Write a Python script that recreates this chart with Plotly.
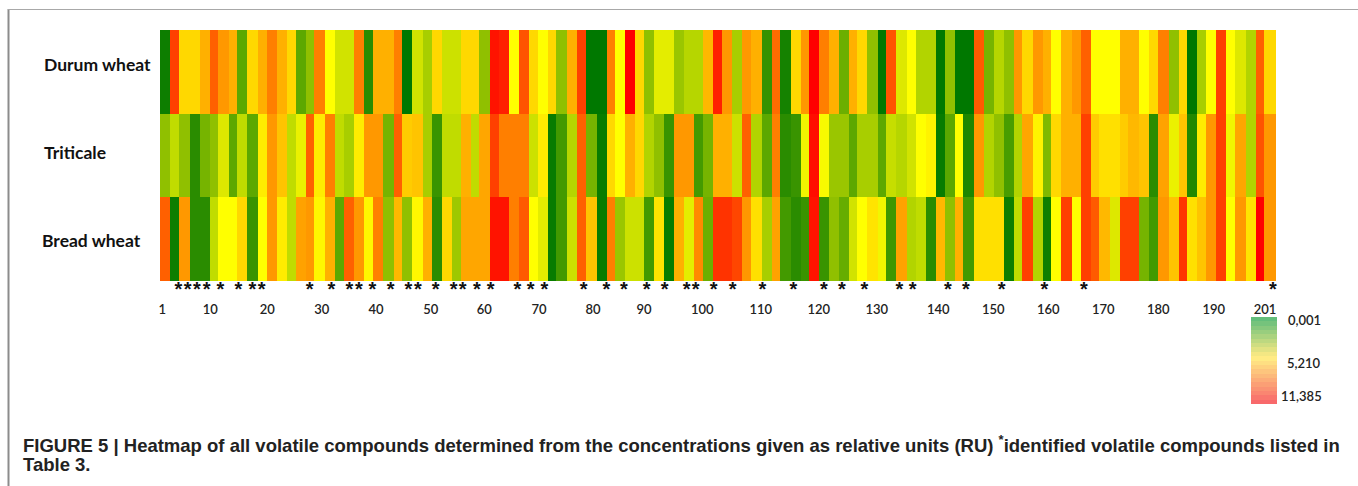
import plotly.graph_objects as go

WIDTH, HEIGHT = 1358, 486

row_names = ["Durum wheat", "Triticale", "Bread wheat"]

# Colour position of each block (0 = dark green, 5 = yellow, 10 = red)
durum_wheat = [
    0.3, 9, 6, 6, 7, 8.5, 7.5, 7, 2, 6,
    7, 8, 7, 6, 2, 3, 8, 5, 4.3, 4.3,
    8, 1, 7, 7, 8, 0, 4.3, 3.5, 6, 4.2,
    4.2, 6, 6, 3, 9.7, 9.5, 5, 8.7, 6, 5,
    6, 3, 7, 9, 0, 0, 8, 5, 10, 6,
    3, 4.6, 4.6, 3.2, 3.8, 3.8, 6.8, 9.5, 7.5, 3.5,
    7.5, 7, 1.2, 8.3, 0.5, 6, 7.5, 10, 8, 7,
    2.3, 7, 6, 3, 0, 8.7, 4.5, 5, 3.7, 3.7,
    0, 3, 0, 0, 8.6, 2.5, 3.8, 3, 7.5, 6,
    7.5, 7, 5, 7, 7.5, 8.5, 5, 5, 5, 7,
    7, 5, 6, 8, 3, 6, 0, 3.5, 5, 9,
    5, 4.5, 3.7, 8.5, 6,
]
triticale = [
    3, 4, 3, 1, 2.5, 3, 4.5, 2, 4, 2,
    5.5, 7.5, 6.5, 4, 4.7, 8.5, 5.5, 8, 4, 3.5,
    5.5, 7.5, 7.5, 2.5, 8.5, 6.3, 6.5, 3.5, 1.3, 4,
    4, 7, 4, 7.2, 9, 8, 8, 8, 4.2, 5.5,
    0.2, 1.5, 3.8, 8.5, 2.5, 0.2, 6, 5, 7, 6,
    3.7, 3, 1.3, 7.5, 7.5, 1.5, 2.5, 7, 7, 4.2,
    8.5, 3.7, 2, 8, 1, 1.3, 4.8, 9.8, 4.9, 3.2,
    3.2, 2, 3.5, 3.5, 2, 4.1, 3.8, 4.3, 5, 5.3,
    0.2, 2, 5, 0.7, 7.5, 3.7, 3, 1.6, 3.7, 7.2,
    5.3, 2.7, 6, 7, 7, 9, 6.3, 5.8, 5.8, 6.3,
    6.8, 6.5, 1, 7.3, 4.7, 6.5, 0.8, 5.5, 7.5, 9,
    4.8, 7.2, 3.7, 8.7, 7.5,
]
bread_wheat = [
    8.5, 0.3, 7.5, 1, 1, 4, 5, 5, 6, 1.3,
    5, 7.5, 5.5, 4, 7.3, 7.5, 5.2, 7, 2, 8.5,
    7.5, 5.2, 8, 3, 6.8, 3, 5.2, 7, 1, 6,
    3.3, 7.2, 7.2, 7.2, 9.7, 9.7, 8, 8.6, 5, 4.6,
    0.2, 1.5, 4.2, 8.5, 6.5, 0.2, 8, 3.2, 4.2, 4.2,
    1.5, 5.7, 0.2, 7, 4.6, 7.8, 2.3, 9.2, 9.2, 8.9,
    7.5, 5.8, 3.5, 7.3, 1.5, 1, 1.3, 9.7, 1.3, 3,
    2.2, 4.3, 5, 5.7, 4.8, 1.4, 7.3, 3.7, 4, 1,
    6.8, 3, 7, 1.5, 5.8, 5.8, 5.8, 0.3, 4, 9,
    3.7, 0.3, 5, 9, 5, 9, 8.6, 6.8, 4.5, 9,
    9, 2.5, 1.5, 7.5, 6.5, 9.2, 5.8, 6.5, 7.5, 9,
    5, 7.5, 5.7, 10, 7.5,
]

# Block boundaries along the horizontal axis (the blocks are not evenly wide)
column_edges = [
    160, 169.7, 179.3, 189.7, 199.7, 210, 218.3, 228.7, 237, 247.3,
    257.7, 267, 277, 287.3, 295.7, 306, 314.3, 324.7, 335, 344.3,
    354.3, 364.3, 373, 383.3, 393.7, 401.7, 412.3, 422.7, 431.7, 442,
    452.3, 460.7, 471, 479.3, 489.7, 499.3, 509, 519.3, 529.3, 538.3,
    548, 556.3, 566.7, 577.3, 586, 596.7, 606.7, 614.7, 625, 635,
    644, 654.3, 664, 673.7, 684, 694.3, 702.7, 712.7, 721.7, 731.7,
    742, 751.3, 761.7, 772, 780, 790.7, 800.7, 808.7, 819.3, 828.7,
    838.7, 849, 857, 867.3, 878, 886, 896.3, 906.7, 916, 926.3,
    936.3, 944.7, 955, 963.3, 973.7, 984, 993.7, 1004, 1013.7, 1022,
    1032.7, 1042.7, 1051, 1061.3, 1071.7, 1081, 1091.3, 1099.3, 1110, 1120,
    1128.3, 1138.7, 1149, 1158.3, 1168.7, 1178.7, 1186.7, 1197.3, 1205.7, 1216,
    1226, 1235.3, 1245.7, 1256, 1264.3, 1275.5,
]

tick_labels = ["1", "10", "20", "30", "40", "50", "60", "70", "80", "90", "100",
               "110", "120", "130", "140", "150", "160", "170", "180", "190", "201"]
tick_positions = [162.3, 210.3, 267.3, 321.7, 376, 430.7, 484.3, 539, 593, 644, 702.3,
                  760.7, 818.7, 876.7, 938.3, 993.3, 1048.3, 1103.3, 1158.3, 1213.7, 1265]

star_positions = [178.3, 187.7, 197, 206.7, 220.3, 238.3, 252.3, 261.7, 309.7, 331.3, 349.3,
                  359, 372.3, 390.7, 408.3, 418, 435.7, 453.7, 462.7, 477, 490.7, 517.3,
                  530.7, 544.3, 583.7, 606.3, 624, 646.7, 664.7, 686.7, 695.7, 713.7, 732.7,
                  762.3, 793.3, 824, 842, 864.3, 899.3, 912.7, 948, 966, 1001.7, 1044.3,
                  1084, 1273]

legend_steps = [0.001, 0.6, 1.2, 1.8, 2.4, 3.0, 3.6, 4.2, 4.8, 5.21,
                5.8, 6.4, 7.0, 7.6, 8.2, 8.8, 9.4, 10.0, 10.7, 11.385]
legend_labels = ["0,001", "5,210", "11,385"]

caption_1 = ("FIGURE 5 | Heatmap of all volatile compounds determined from the concentrations "
             "given as relative units (RU) <sup>*</sup>identified volatile compounds listed in")
caption_2 = "Table 3."

main_scale = [
    [0.00, "#007800"], [0.10, "#2a8c00"], [0.20, "#5ca800"], [0.30, "#90c000"],
    [0.40, "#c0dc00"], [0.45, "#dde800"], [0.50, "#ffff00"], [0.60, "#ffd800"],
    [0.70, "#ffb000"], [0.75, "#ff9800"], [0.80, "#ff7f00"], [0.85, "#ff6000"],
    [0.90, "#ff4000"], [0.95, "#ff2000"], [1.00, "#ff0000"],
]
legend_scale = [[0, "#63be7b"], [0.4576, "#ffeb84"], [1, "#f8696b"]]


def ydom(top, bottom):
    return [1 - bottom / HEIGHT, 1 - top / HEIGHT]


fig = go.Figure()
fig.add_trace(go.Heatmap(
    x=column_edges, y=[0, 1, 2],
    z=[durum_wheat, triticale, bread_wheat],
    zmin=0, zmax=10, colorscale=main_scale, showscale=False, hoverinfo="skip",
))
fig.add_trace(go.Scatter(
    x=star_positions, y=[2.62] * len(star_positions), mode="text", text=["*"] * len(star_positions),
    textposition="middle center", hoverinfo="skip",
    textfont=dict(family="Liberation Sans", size=20, color="#111111", weight=700),
))
fig.add_trace(go.Heatmap(
    x=[0], y=list(range(len(legend_steps))), z=[[v] for v in legend_steps],
    zmin=0.001, zmax=11.385, colorscale=legend_scale, showscale=False, hoverinfo="skip",
    xaxis="x2", yaxis="y2",
))

fig.update_layout(
    width=WIDTH, height=HEIGHT, margin=dict(l=0, r=0, t=0, b=0), autosize=False,
    paper_bgcolor="white", plot_bgcolor="white", showlegend=False,
    xaxis=dict(range=[0, WIDTH], domain=[0, 1], tickmode="array", tickvals=tick_positions,
               ticktext=tick_labels, ticks="", showgrid=False, zeroline=False, showline=False,
               ticklabelstandoff=5,
               tickfont=dict(family="Lato", size=13, color="#222222", weight=600)),
    yaxis=dict(range=[2.667, -0.5], domain=ydom(30, 295), showticklabels=False, ticks="",
               showgrid=False, zeroline=False, showline=False),
    xaxis2=dict(domain=[1251 / WIDTH, 1277 / WIDTH], visible=False, anchor="y2", range=[-0.5, 0.5]),
    yaxis2=dict(domain=ydom(317, 404), visible=False, anchor="x2", range=[19.5, -0.5]),
)

annotations = []
for name, px, py in zip(row_names, [42, 42, 40], [64, 152, 240]):
    annotations.append(dict(text=name, x=px, y=py, xref="x", yref="paper", xanchor="left", yanchor="middle",
                            showarrow=False, font=dict(family="Lato", size=17.5, color="#111111", weight=700)))
for label, px, py in zip(legend_labels, [1323, 1323, 1324], [320, 363, 396]):
    annotations.append(dict(text=label, x=px, y=py, xref="x", yref="paper", xanchor="right", yanchor="middle",
                            showarrow=False, font=dict(family="Lato", size=13, color="#222222", weight=600)))
for line, py in [(caption_1, 444), (caption_2, 464)]:
    annotations.append(dict(text=line, x=21, y=py, xref="x", yref="paper", xanchor="left", yanchor="middle",
                            showarrow=False, font=dict(family="Liberation Sans", size=18.5, color="#222222", weight=700)))
for a in annotations:
    a["y"] = 1 - a["y"] / HEIGHT
fig.update_layout(annotations=annotations)

fig.update_layout(shapes=[
    dict(type="line", xref="paper", yref="paper", x0=8.5 / WIDTH, x1=8.5 / WIDTH, y0=0, y1=1 - 9 / HEIGHT,
         line=dict(color="#8c8c8c", width=2)),
    dict(type="line", xref="paper", yref="paper", x0=8 / WIDTH, x1=1, y0=1 - 9.5 / HEIGHT, y1=1 - 9.5 / HEIGHT,
         line=dict(color="#a8a8a8", width=1)),
])

fig.write_html("out.html", config={"displayModeBar": False},
               post_script="document.body.style.margin='0';document.body.style.overflow='hidden';")
